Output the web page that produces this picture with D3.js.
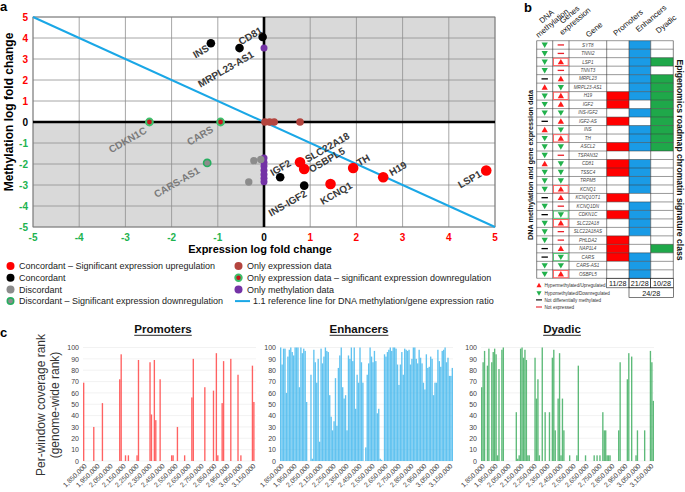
<!DOCTYPE html>
<html><head><meta charset="utf-8">
<script src="https://cdn.jsdelivr.net/npm/d3@7"></script>
<style>body{margin:0;background:#fff;} svg{display:block;font-family:Arial,"Liberation Sans",Helvetica,sans-serif;}</style>
</head><body><svg id="c" width="685" height="492"></svg>
<script>
// ================= DATA =================
// Panel a: scatter points
const aGenes = ['SYT8','TNNI2','TNNT3','TSPAN32','KCNQ1DN','SLC22A18AS','PHLDA2','MO1',
  'ASCL2','TSSC4','TRPM5','CARS-AS1','MRPL23','IGF2-AS','KCNQ1OT1','NAP1L4','CDKN1C','CARS',
  'INS','MRPL23-AS1','CD81','IGF2','INS-IGF2','SLC22A18','OSBPL5','KCNQ1','TH','H19','LSP1'];
const aExpr = [0,0,0,0,0,0,0,0, -0.07,-0.22,-0.33,-1.23, 0.02,0.12,0.22,0.78,-2.48,-0.94,
  -1.15,-0.53,-0.03,0.35,0.87,0.78,0.87,1.44,1.93,2.58,4.81];
const aMeth = [-1.72,-1.92,-2.1,-2.3,-2.5,-2.68,-2.85,3.52, -1.78,-1.84,-2.86,-1.95, 0,0,0,0,0,0,
  3.75,3.52,4.05,-2.63,-3.03,-1.92,-2.24,-2.95,-2.19,-2.63,-2.31];
const aClass = ['meth','meth','meth','meth','meth','meth','meth','meth','dis','dis','dis','disdown',
  'expr','expr','expr','expr','exprdown','exprdown','con','con','con','con','con','cup','cup','cup','cup','cup','cup'];
const aLabelled = ['INS','MRPL23-AS1','CD81','IGF2','INS-IGF2','SLC22A18','OSBPL5','KCNQ1','TH','H19','LSP1','CDKN1C','CARS','CARS-AS1'];
const aTicks = [-5,-4,-3,-2,-1,0,1,2,3,4,5];
const refLineX = [-5,5];
const refLineY = [5,-5];
const legendALabels = ['Concordant \u2013 Significant expression upregulation','Concordant','Discordant',
  'Discordant \u2013 Significant expression downregulation','Only expression data',
  'Only expression data \u2013 significant expression downregulation','Only methylation data',
  '1.1 reference line for DNA methylation/gene expression ratio'];
const legendAClasses = ['cup','con','dis','disdown','expr','exprdown','meth','line'];

// Panel b: table
const bGenes = ['SYT8','TNNI2','LSP1','TNNT3','MRPL23','MRPL23-AS1','H19','IGF2','INS-IGF2','IGF2-AS','INS','TH',
  'ASCL2','TSPAN32','CD81','TSSC4','TRPM5','KCNQ1','KCNQ1OT1','KCNQ1DN','CDKN1C','SLC22A18','SLC22A18AS',
  'PHLDA2','NAP1L4','CARS','CARS-AS1','OSBPL5'];
const bMeth = ['down','down','down','down','ns','up','down','down','down','ns','up','down','down','down',
  'up','down','down','down','ns','down','ns','down','down','down','ns','ns','down','down'];
const bExpr = ['ne','ne','up','ne','up','down','up','up','down','up','down','up','down','ne',
  'down','down','down','up','up','ne','down','up','ne','ne','up','down','down','up'];
const bSig = ['','','up','','','','up','','','','','up','','','','','','up','','','down','up','','','','down','','up'];
const bProm = [0,0,0,0,0,0,1,1,0,1,0,0,1,0,1,1,0,0,1,0,1,0,0,1,1,1,0,0];
const bEnh  = [1,1,1,1,1,1,1,0,1,0,1,1,1,0,1,1,1,1,0,1,1,1,1,0,0,1,1,1];
const bDya  = [0,0,1,0,1,1,1,1,1,1,1,1,1,0,0,0,0,0,0,0,0,0,0,0,1,0,0,0];
const bCounts = ['11/28','21/28','10/28'];
const bCombined = '24/28';
const bHeaders = [['DNA','methylation'],['Genes','expression'],['Gene'],['Promoters'],['Enhancers'],['Dyadic']];
const bLegend = ['Hypermethylated/Upregulated','Hypomethylated/Downregulated','Not differentially methylated','Not expressed'];
const bLegendSym = ['up','down','ns','ne'];

// Panel c: per-window coverage rank
const cTickLabels = ['1,850,000','1,950,000','2,050,000','2,150,000','2,250,000','2,350,000','2,450,000',
  '2,550,000','2,650,000','2,750,000','2,850,000','2,950,000','3,050,000','3,150,000'];
const cYTicks = [0,10,20,30,40,50,60,70,80,90,100];
const promoters = [
69,0,0,0,0,0,0,30,0,0, 0,0,0,51,0,0,0,0,0,0, 0,0,0,0,0,72,94,0,0,5, 0,5,0,0,0,0,0,5,89,0,
0,0,0,0,0,0,87,41,0,89, 36,0,0,72,0,0,0,0,0,0, 0,5,5,0,0,30,0,0,0,0, 5,0,0,0,0,56,90,0,0,0,
0,0,0,0,65,0,0,0,0,0, 62,0,95,5,0,0,51,88,0,0, 0,0,90,0,0,0,0,76,0,5, 0,0,0,0,0,0,0,84,52,0];
const enhancers = [
100,85,99,99,60,92,98,100,96,93,100,100,100,65,100,95,99,97,52, 0,0, 76,2,
98,87,69,90,17,99,86,92,100,97,96,58,39,27,35,73,31,82,93,100,65,55,58,27,93,90,100,88,100,46,
76,69,100,87,69,0,12,76,86,100,92,87,97,88,42,46,2,1, 0,
94,92,96,98,100,97,100,100,99,85,67,85,96,76,99,98,97,98,85,90,100,100,90,86,98,91,86,69,63,94,
82,83,92,90,58,69,69,98,88,83,97,98,100,87,91,75,75,82];
const dyadic = [
65,87,97,0,84,99,0,87,96,99, 94,5,81,0,98,100,0,0,0,0, 0,0,0,0,43,2,5,99,100,91, 98,89,5,5,0,0,0,91,55,72,
5,0,100,0,43,0,0,43,0,91, 98,27,0,55,95,5,55,27,0,0, 0,5,0,0,0,0,5,84,0,0, 0,0,5,0,0,0,0,0,5,0,
5,0,5,0,43,27,27,5,5,5, 0,0,0,0,0,27,87,0,0,0, 0,72,95,0,92,0,0,5,27,0, 0,0,0,27,0,0,0,97,87,53];

// ================= DRAW =================
const svg = d3.select('#c');

// ---------- Panel a ----------
const aX = d3.scaleLinear().domain([-5,5]).range([33,495]);
const aY = d3.scaleLinear().domain([-5,5]).range([227,17]);
const ga = svg.append('g');
const quadFill = '#d9d9d9';
ga.append('rect').attr('x',aX(-5)).attr('y',aY(0)).attr('width',aX(0)-aX(-5)).attr('height',aY(-5)-aY(0)).attr('fill',quadFill);
ga.append('rect').attr('x',aX(0)).attr('y',aY(5)).attr('width',aX(5)-aX(0)).attr('height',aY(0)-aY(5)).attr('fill',quadFill);
ga.selectAll('.gx').data(aTicks).join('line').attr('x1',d=>aX(d)).attr('x2',d=>aX(d))
  .attr('y1',aY(5)).attr('y2',aY(-5)).attr('stroke','#8f8f8f').attr('stroke-width',0.8);
ga.selectAll('.gy').data(aTicks).join('line').attr('y1',d=>aY(d)).attr('y2',d=>aY(d))
  .attr('x1',aX(-5)).attr('x2',aX(5)).attr('stroke','#8f8f8f').attr('stroke-width',0.8);
ga.append('rect').attr('x',aX(-5)).attr('y',aY(5)).attr('width',aX(5)-aX(-5)).attr('height',aY(-5)-aY(5))
  .attr('fill','none').attr('stroke','#777').attr('stroke-width',0.8);
ga.append('line').attr('x1',aX(-5)).attr('x2',aX(5)).attr('y1',aY(0)).attr('y2',aY(0)).attr('stroke','#000').attr('stroke-width',2.6);
ga.append('line').attr('x1',aX(0)).attr('x2',aX(0)).attr('y1',aY(5)).attr('y2',aY(-5)).attr('stroke','#000').attr('stroke-width',2.6);
ga.append('line').attr('x1',aX(refLineX[0])).attr('y1',aY(refLineY[0])).attr('x2',aX(refLineX[1])).attr('y2',aY(refLineY[1]))
  .attr('stroke','#1aa7e6').attr('stroke-width',2);

const tickCol = (v, pos) => v === 0 ? '#000' : ((v > 0) === pos ? '#ff0000' : '#1db34f');
ga.selectAll('.tx').data(aTicks).join('text').attr('x',d=>aX(d)).attr('y',241).attr('text-anchor','middle')
  .attr('font-size',10).attr('font-weight','bold').attr('fill',d=>tickCol(d,true)).text(d=>d);
ga.selectAll('.ty').data(aTicks).join('text').attr('x',28).attr('y',d=>aY(d)+3.5).attr('text-anchor','end')
  .attr('font-size',10).attr('font-weight','bold').attr('fill',d=>tickCol(d,true)).text(d=>d);
ga.append('text').attr('x',260).attr('y',253).attr('text-anchor','middle').attr('font-size',11).attr('font-weight','bold').text('Expression log fold change');
ga.append('text').attr('transform','translate(13,112) rotate(-90)').attr('text-anchor','middle').attr('font-size',12).attr('font-weight','bold').text('Methylation log fold change');
svg.append('text').attr('x',0).attr('y',11).attr('font-size',13).attr('font-weight','bold').text('a');

const clsStyle = {
  meth:{fill:'#7433a6',stroke:'none',sw:0,r:3.5},
  dis:{fill:'#8c8c8c',stroke:'none',sw:0,r:3.7},
  disdown:{fill:'#8c8c8c',stroke:'#27ae60',sw:1.6,r:3.6},
  expr:{fill:'#b4453f',stroke:'none',sw:0,r:3.8},
  exprdown:{fill:'#c4161c',stroke:'#3cbf6a',sw:2,r:3.4},
  con:{fill:'#000',stroke:'none',sw:0,r:4.3},
  cup:{fill:'#ff0000',stroke:'none',sw:0,r:5.3}
};
const pts = aGenes.map((g,i)=>({g, x:aExpr[i], y:aMeth[i], c:aClass[i]}));
ga.selectAll('.pt').data(pts).join('circle').attr('cx',d=>aX(d.x)).attr('cy',d=>aY(d.y))
  .attr('r',d=>clsStyle[d.c].r).attr('fill',d=>clsStyle[d.c].fill)
  .attr('stroke',d=>clsStyle[d.c].stroke).attr('stroke-width',d=>clsStyle[d.c].sw);

// label placement (layout): [dx, dy, anchor]
const labelLayout = {
  'INS':[-1,7,'end'], 'MRPL23-AS1':[15,8.5,'end'], 'CD81':[0.5,-4.5,'end'],
  'CDKN1C':[-2,10.5,'end'], 'CARS':[-6.5,9.5,'end'], 'CARS-AS1':[-6.5,9.5,'end'],
  'INS-IGF2':[3.5,10,'end'], 'KCNQ1':[22.5,3.5,'end'], 'LSP1':[-4,5.5,'end'],
  'IGF2':[-7.5,-1,'start'], 'SLC22A18':[7.5,0.5,'start'], 'OSBPL5':[7,4,'start'],
  'TH':[6,-1.5,'start'], 'H19':[8.5,-1,'start']
};
const greyLabels = ['CDKN1C','CARS','CARS-AS1'];
ga.selectAll('.lab').data(pts.filter(d=>aLabelled.includes(d.g))).join('text')
  .attr('transform',d=>{const L=labelLayout[d.g]; return `translate(${aX(d.x)+L[0]},${aY(d.y)+L[1]}) rotate(-30)`;})
  .attr('text-anchor',d=>labelLayout[d.g][2]).attr('font-size',10).attr('font-weight','bold')
  .attr('fill',d=>greyLabels.includes(d.g)?'#7a7a7a':'#3a3a3a').text(d=>d.g);

// legend a
const gl = svg.append('g');
legendALabels.forEach((t,i)=>{
  const col = i<4?0:1, row = i%4;
  const cy = 266 + row*11.7;
  const mx = col===0?10.5:238.5, tx = col===0?19:247;
  const c = legendAClasses[i];
  if(c==='line'){
    gl.append('line').attr('x1',235).attr('x2',250).attr('y1',cy).attr('y2',cy).attr('stroke','#1aa7e6').attr('stroke-width',2);
    gl.append('text').attr('x',253).attr('y',cy+3.2).attr('font-size',9).attr('fill','#222').text(t);
  } else {
    const s = clsStyle[c];
    gl.append('circle').attr('cx',mx).attr('cy',cy).attr('r',c==='disdown'||c==='exprdown'?3.2:4)
      .attr('fill',s.fill).attr('stroke',s.stroke).attr('stroke-width',c==='exprdown'?2:s.sw);
    gl.append('text').attr('x',tx).attr('y',cy+3.2).attr('font-size',9).attr('fill','#222').text(t);
  }
});

// ---------- Panel b ----------
const gb = svg.append('g');
svg.append('text').attr('x',524).attr('y',12).attr('font-size',13).attr('font-weight','bold').text('b');
const colEdges = [536.7,552.7,569,606.7,629,650.7,673.3];
const rowY = d3.scaleBand().domain(d3.range(bGenes.length)).range([40.7,278.3]);
const rh = rowY.bandwidth();
const colW = i => colEdges[i+1]-colEdges[i];
const fills = [bProm.map(v=>v?'#ff0000':'#fff'), bEnh.map(v=>v?'#1a9be6':'#fff'), bDya.map(v=>v?'#1fa84a':'#fff')];
fills.forEach((arr,ci)=>{
  gb.selectAll(null).data(arr).join('rect').attr('x',colEdges[ci+3]).attr('y',(d,i)=>rowY(i))
    .attr('width',colW(ci+3)).attr('height',rh).attr('fill',d=>d);
});
// grid
gb.selectAll('.hr').data(d3.range(bGenes.length+1)).join('line')
  .attr('x1',colEdges[0]).attr('x2',colEdges[6]).attr('y1',i=>40.7+i*rh).attr('y2',i=>40.7+i*rh)
  .attr('stroke','#333').attr('stroke-width',0.5);
gb.selectAll('.vr').data(colEdges).join('line').attr('x1',d=>d).attr('x2',d=>d).attr('y1',40.7).attr('y2',278.3)
  .attr('stroke','#333').attr('stroke-width',0.6);
// significance boxes
gb.selectAll('.sig').data(bSig.map((s,i)=>({s,i})).filter(d=>d.s)).join('rect')
  .attr('x',colEdges[1]+0.8).attr('y',d=>rowY(d.i)+0.6).attr('width',colW(1)-1.6).attr('height',rh-1.2)
  .attr('fill','#fff').attr('stroke',d=>d.s==='up'?'#ff5a5a':'#4cc36c').attr('stroke-width',0.9);
function drawSym(g, kind, cx, cy){
  if(kind==='up'||kind==='down'){
    g.append('path').attr('d',d3.symbol(d3.symbolTriangle,17)())
      .attr('transform',`translate(${cx},${cy+ (kind==='up'?0.6:-0.6)}) rotate(${kind==='up'?0:180})`)
      .attr('fill',kind==='up'?'#ff1a1a':'#22b14c');
  } else {
    g.append('line').attr('x1',cx-3.2).attr('x2',cx+3.2).attr('y1',cy).attr('y2',cy)
      .attr('stroke',kind==='ns'?'#000':'#e8202a').attr('stroke-width',1.3);
  }
}
bGenes.forEach((g,i)=>{
  const cy = rowY(i)+rh/2;
  drawSym(gb, bMeth[i], (colEdges[0]+colEdges[1])/2, cy);
  drawSym(gb, bExpr[i], (colEdges[1]+colEdges[2])/2, cy);
  gb.append('text').attr('x',(colEdges[2]+colEdges[3])/2).attr('y',cy+1.6).attr('text-anchor','middle')
    .attr('font-size',4.6).attr('font-style','italic').attr('fill','#444').text(g);
});
// headers
const headerPos = [[552,23],[575,21],[594,29.5],[628,22.5],[651,18.5],[666,24]];
bHeaders.forEach((lines,i)=>{
  const hg = gb.append('g').attr('transform',`translate(${headerPos[i][0]},${headerPos[i][1]}) rotate(-40)`);
  lines.forEach((ln,j)=>{
    hg.append('text').attr('x',0).attr('y',2.7-(lines.length-1-j)*8.5).attr('text-anchor','middle')
      .attr('font-size',7.8).attr('fill','#111').text(ln);
  });
});
// count boxes
bCounts.forEach((t,i)=>{
  gb.append('rect').attr('x',colEdges[i+3]).attr('y',278.3).attr('width',colW(i+3)).attr('height',9.5)
    .attr('fill','none').attr('stroke','#222').attr('stroke-width',0.6);
  gb.append('text').attr('x',(colEdges[i+3]+colEdges[i+4])/2).attr('y',286.2).attr('text-anchor','middle')
    .attr('font-size',7.2).attr('fill','#111').text(t);
});
gb.append('rect').attr('x',colEdges[4]).attr('y',287.8).attr('width',colEdges[6]-colEdges[4]).attr('height',9.5)
  .attr('fill','none').attr('stroke','#222').attr('stroke-width',0.6);
gb.append('text').attr('x',(colEdges[4]+colEdges[6])/2).attr('y',295.7).attr('text-anchor','middle')
  .attr('font-size',7.2).attr('fill','#111').text(bCombined);
gb.append('text').attr('transform','translate(533,165) rotate(-90)').attr('text-anchor','middle')
  .attr('font-size',7.3).attr('font-weight','bold').attr('fill','#111').text('DNA methylation and gene expression data');
gb.append('text').attr('transform','translate(677,160) rotate(90)').attr('text-anchor','middle')
  .attr('font-size',8.6).attr('font-weight','bold').attr('fill','#111').text('Epigenomics roadmap chromatin signature class');
bLegend.forEach((t,i)=>{
  const cy = 285.7 + i*7.1;
  const sg = gb.append('g');
  if(bLegendSym[i]==='up'||bLegendSym[i]==='down'){
    sg.append('path').attr('d',d3.symbol(d3.symbolTriangle,11)())
      .attr('transform',`translate(539,${cy}) rotate(${bLegendSym[i]==='up'?0:180})`)
      .attr('fill',bLegendSym[i]==='up'?'#ff1a1a':'#22b14c');
  } else {
    sg.append('line').attr('x1',536).attr('x2',542).attr('y1',cy).attr('y2',cy)
      .attr('stroke',bLegendSym[i]==='ns'?'#000':'#e8202a').attr('stroke-width',1.1);
  }
  gb.append('text').attr('x',544.5).attr('y',cy+1.7).attr('font-size',4.6).attr('fill','#333').text(t);
});

// ---------- Panel c ----------
svg.append('text').attr('x',0).attr('y',337).attr('font-size',13).attr('font-weight','bold').text('c');
const cY = d3.scaleLinear().domain([0,100]).range([461,347.5]);
function barChart(x0, values, color, title, titleX){
  const g = svg.append('g');
  const x = d3.scaleBand().domain(d3.range(values.length)).range([x0, x0+173]).paddingInner(0.06);
  g.selectAll('.grid').data(cYTicks).join('line').attr('x1',x0).attr('x2',x0+173)
    .attr('y1',d=>cY(d)).attr('y2',d=>cY(d)).attr('stroke','#ececec').attr('stroke-width',0.7);
  g.selectAll('.bar').data(values.map((v,i)=>({v,i}))).join('rect')
    .attr('x',d=>x(d.i)).attr('width',x.bandwidth()).attr('y',d=>cY(d.v)).attr('height',d=>cY(0)-cY(d.v))
    .attr('fill',color).attr('fill-opacity',0.8);
  const ya = g.append('g').attr('transform',`translate(${x0},0)`)
    .call(d3.axisLeft(cY).tickValues(cYTicks).tickSize(0).tickPadding(4));
  ya.select('.domain').remove();
  ya.selectAll('text').attr('font-size',7).attr('fill','#444').attr('font-family','Arial,"Liberation Sans",sans-serif');
  const xa = g.append('g').attr('transform',`translate(0,${cY(0)})`)
    .call(d3.axisBottom(x).tickValues(d3.range(0,values.length,9)).tickFormat(d=>cTickLabels[d/9]).tickSize(0).tickPadding(3));
  xa.select('.domain').remove();
  xa.selectAll('text').attr('font-size',6.8).attr('fill','#444').attr('font-family','Arial,"Liberation Sans",sans-serif')
    .attr('text-anchor','end').attr('transform','rotate(-45)').attr('dx','-0.2em').attr('dy','0.5em');
  const tt = g.append('text').attr('x',titleX).attr('y',333).attr('text-anchor','middle')
    .attr('font-size',11.5).attr('font-weight','bold').attr('fill','#111').text(title);
  const w = tt.node().getComputedTextLength();
  g.append('line').attr('x1',titleX-w/2).attr('x2',titleX+w/2).attr('y1',335.3).attr('y2',335.3).attr('stroke','#111').attr('stroke-width',0.9);
}
barChart(83, promoters, '#ff3b3b', 'Promoters', 163);
barChart(280, enhancers, '#3bb4ec', 'Enhancers', 359);
barChart(481, dyadic, '#35a957', 'Dyadic', 562);
svg.append('text').attr('transform','translate(45,405) rotate(-90)').attr('text-anchor','middle')
  .attr('font-size',12).attr('fill','#333').text('Per-window coverage rank');
svg.append('text').attr('transform','translate(59,405) rotate(-90)').attr('text-anchor','middle')
  .attr('font-size',12).attr('fill','#333').text('(genome-wide rank)');
</script></body></html>
